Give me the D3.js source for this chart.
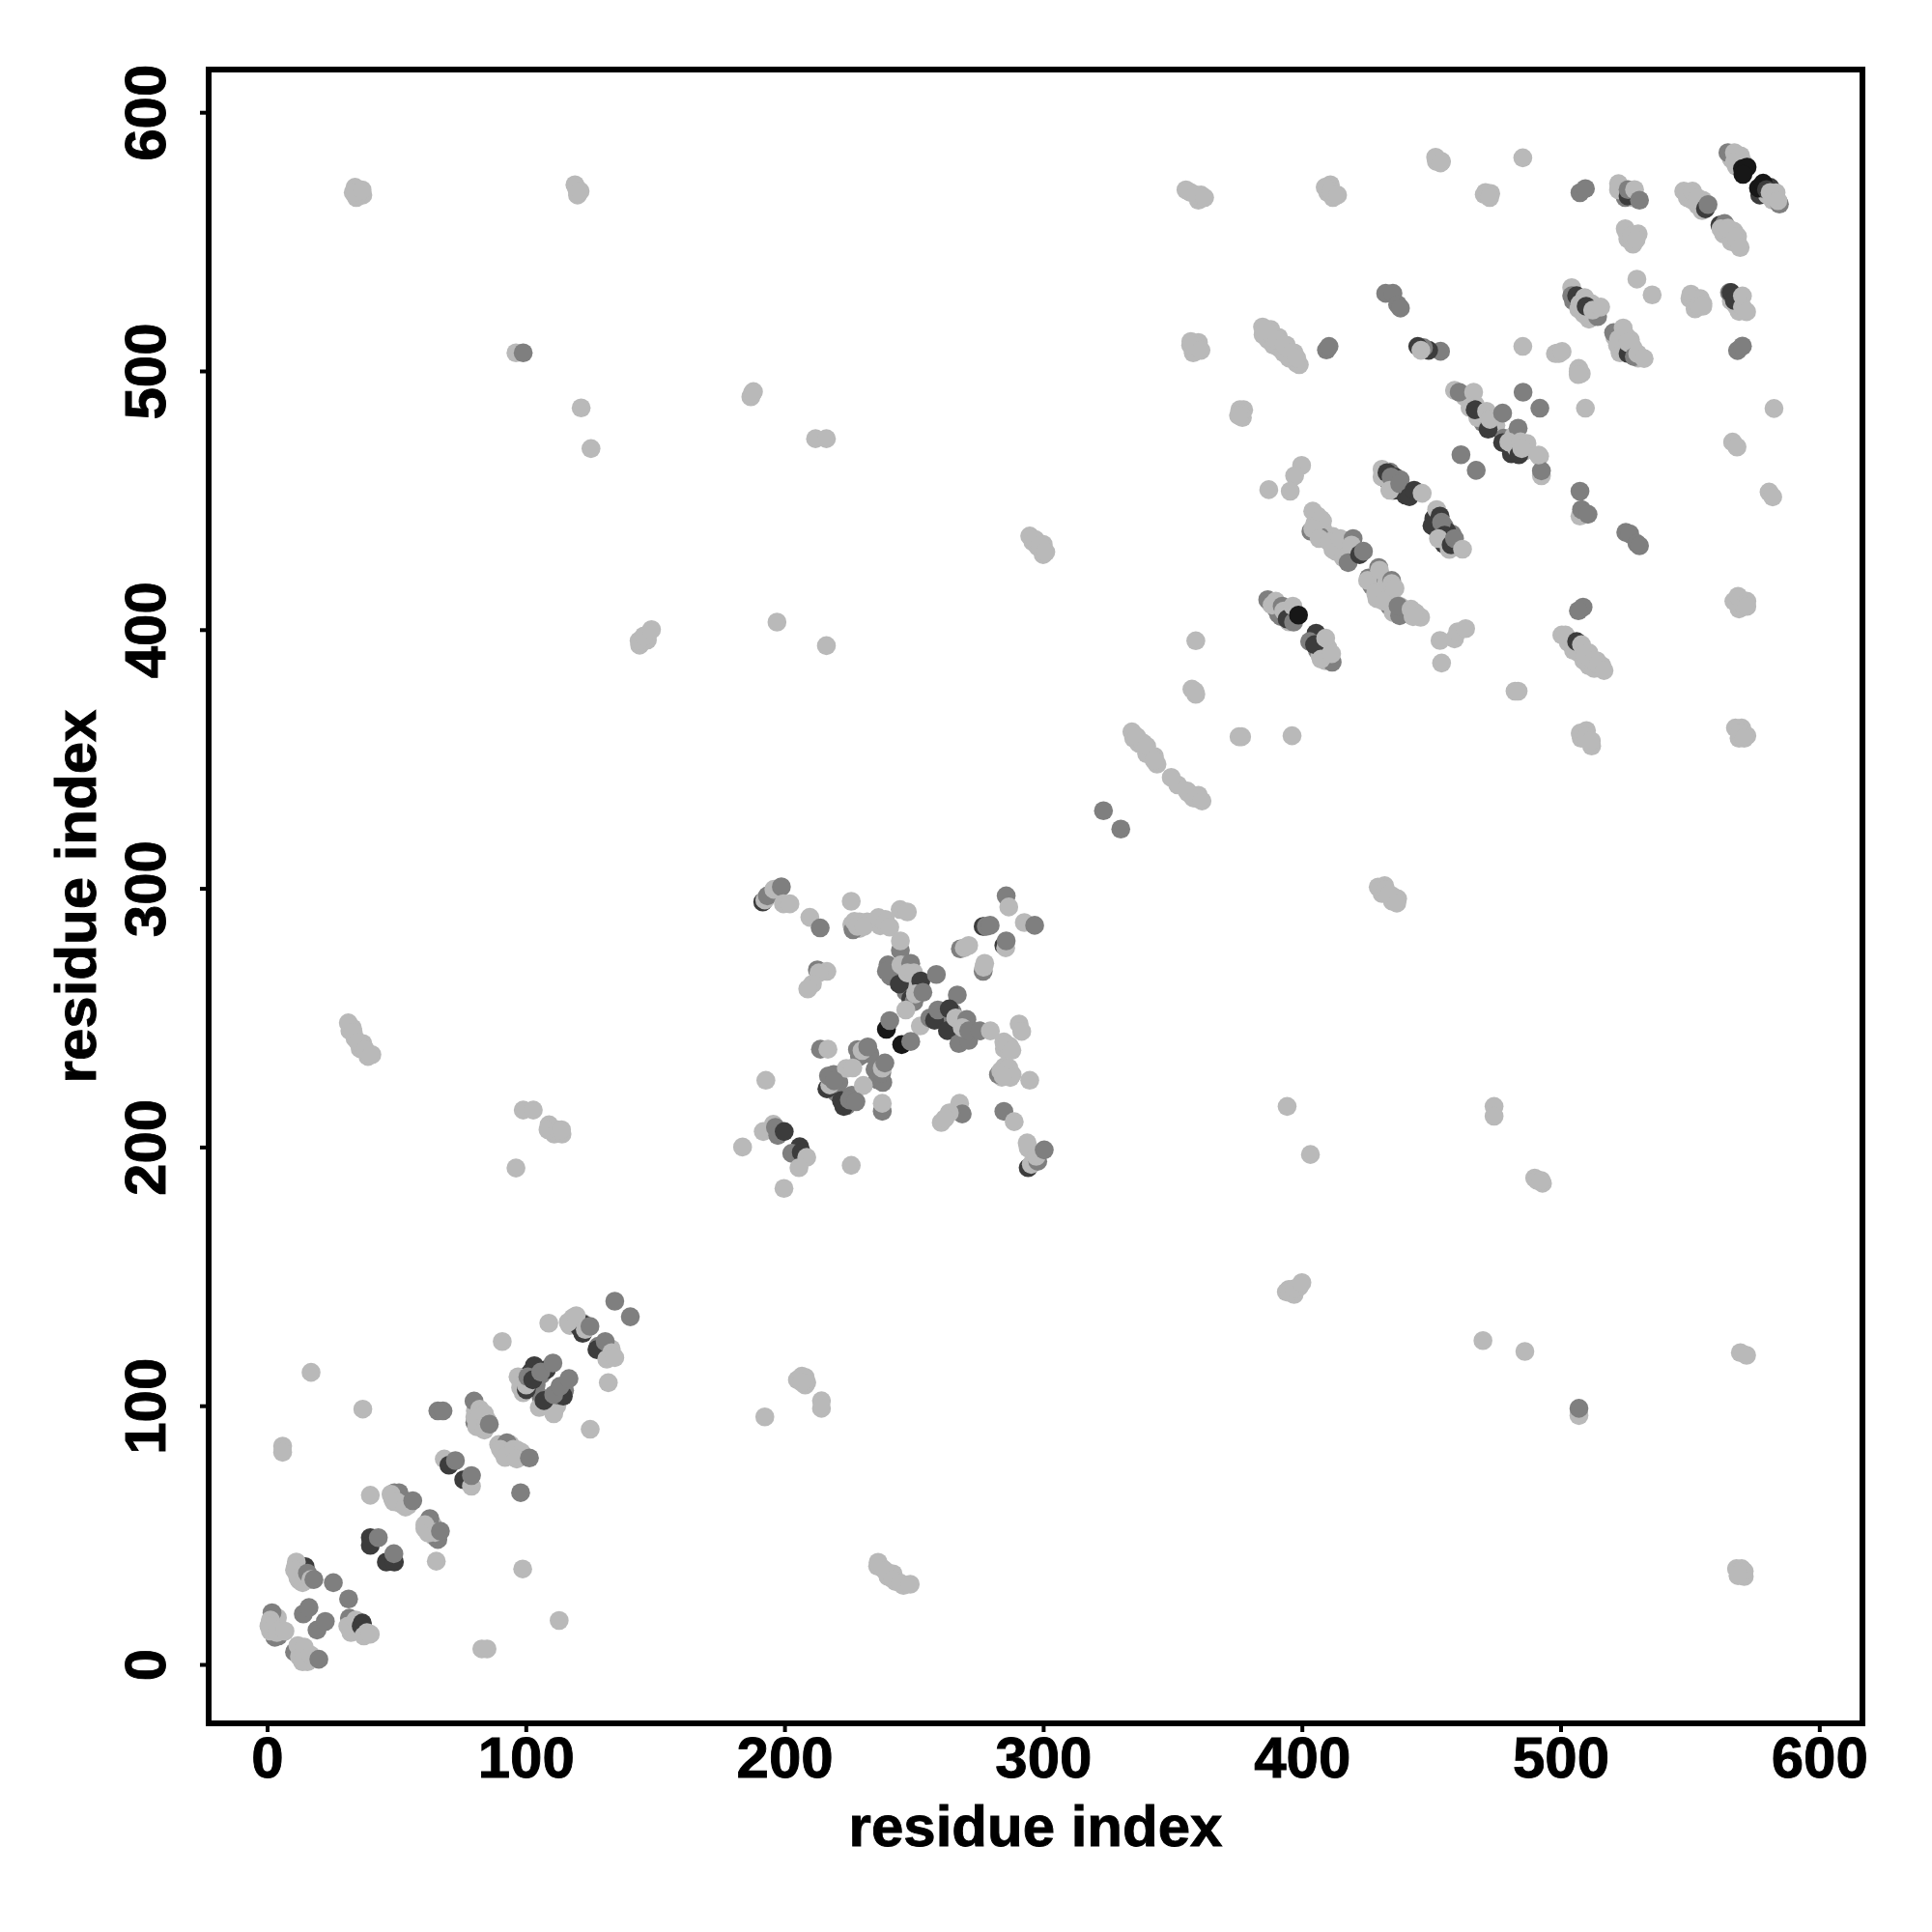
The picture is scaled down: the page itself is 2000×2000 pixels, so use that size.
<!DOCTYPE html>
<html><head><meta charset="utf-8">
<script src="https://cdn.jsdelivr.net/npm/d3@7"></script>
<style>html,body{margin:0;background:#fff}svg{display:block}</style></head>
<body><div id="c"></div>
<script>
// contacts: [residue i, residue j, shade bin (0 light, 1 mid, 2 dark, 3 black)]
const tickValues=[0,100,200,300,400,500,600];
const axisLabel="residue index";
const shades=["#b9b9b9","#7f7f7f","#3c3c3c","#171717"];
const stripeFill=[
[35,568,0],[34,571,0],[37,568,0],[34.5,567,0],[120,569,0],[119,572,0],[120,568,0],[357,569,0],[360,566,0],[361,568,0],[410,569,0],[412,567,0],[411,572,0],
[358,507,0],[357,510,0],[360,511,0],[356,337,0],[358,335,0],[360,336,0],[352,340,0],[335,358,0],[337,356,0],[340,352,0],[344,348,0],[343,351,0],
[431,298,0],[432,301,0],[435,295,0],[435,297,0],[437,296,0],[296,434,0],[298,432,0],[300,429,0],[300,433,0],[395,145,0],[397,143,0],[399,146,0],[394,144,0],
[236,38,0],[238,37,0],[240,34,0],[242,35,0],[243,32,0],[246,30.5,0],[33,246,0],[34,242,0],[36,238,0],[37,240,0],[39,235,0],[32,245,0],
[110,207,0],[111,205,0],[114,205,0],[568,37,0],[571,34,0],[570,37,0],[508,358,0],[510,361,0],[512,355,0],[569,408,0],[572,411,0],[569,411,0],[570,410,0],[567,411,0],
[569,358,0],[570,362,0],[572,359,0],[144,394,0],[147,398,0],[147,396,0],[208,111,0],[208,108,0],[205,110,0],[359,375,0],[357.5,377,0],[377,482,0],[376,485,0],[377.5,485,0],
[490,188,0],[493,186,0],[187,490,0],[188,492,0],[525,555,0],[526,551,0],[528,549,0],[530,553,0],[550,528,0],[552,524,0],[555,526,0],[554,528,0],[454,581,0],[452,581,0],[471,569,0],[473,568.6,0],[499,507,0],[507,501,0],[508,499,0],
[1,16,0],[1.5,14,0],[3,16,0],[3,13.5,0],[4,14.5,0],[5,13.5,0],[3,10.5,1],[4,18,0],
[11,38,0],[12,37,0],[13,35,0],[14,33,0],[12.5,32.5,0],[13,36,0],[15,33,0],
[33,16,0],[33.5,14,0],[35,13,0],[35.5,15,0],[37,13.5,0],[33,13,0],[37,15,0],
[12,5,0],[13,3,0],[15,4,0],[14.5,2.5,0],[16,2,0],[12.5,6,0],[13.5,5,0],
[48.5,64,0],[50,64.5,0],[52,62,0],[53,63.5,0],[54.5,61.5,0],[49,62.9,0],[61,52.5,0],[63,53,0],[64.5,49.5,0],[64,54,0],[65.5,49,1],[62,55,0],
[80.3,93.5,1],[81,97,0],[83,94,0],[82.5,92,0],[84.5,92,0],[85,94.5,0],[80.5,98,0],
[89.5,85,0],[91,82,0],[92.5,83.5,0],[93.5,81,0],[95.5,81,0],[97,80.5,0],[94,85,0],[96.5,83,0],[99,80.5,0],
[98,107,0],[101,112,1],[102,113,2],[104,111,1],[104,108,1],[106,112,1],[108,114,2],[106,103,1],[108,101,2],[109,102,1],[110,99,0],[112,100,0],[113,104,1],[115,106,1],
[118,133,0],[117,131,0],[120,133,0],[121,130,2],[122,132,0],[128,123,1],[130,122,1],[132,119,0],[133,122,0],[132,120,0],
[229,284.5,0],[226,286,0],[226.5,284,1],[229,287,0],[232,287,0],[237,285.5,0],[239,288,0],[243,267,1],[246,265,2],[249,262,0],[247,260,1],[249,263,0],[241,266,1],[261,250,2],[263,247,1],[265,252,1],[267,248,2],[269,243,1],
[220,221,1],[221,225,1],[219,228,1],[222,218,2],[224,216,1],[226,220,1],[229,235,1],[233,236,1],[235,230,1],[236,226,1],[238,225,1],
[285,238,0],[287,239,0],[284,227,0],[285,231,0],[288,228,0],
[405,441,0],[408,439,0],[409,437,0],[412,436,0],[412,431,0],[415,430,0],[417,432,0],[415,433,0],[408,442,0],[406,444,0],
[427,417,1],[429,419,0],[431,416,0],[432,414,0],[433,412,0],[434,409,1],[436,410,0],[438,409,0],[440,407,0],[431,420,0],[432,419,0],[429,412,0],
[433,458,2],[435,457,1],[437,454,2],[439,454,1],[440,452,2],[434,461,1],[436,459,2],[438,458,1],[431,459,0],[442,453,0],
[451,443,2],[452,439,2],[453,438,1],[455,433,2],[456,434,0],[458,437,1],[459,433,2],[453,441,1],[455,440,1],[456,438,2],[457,431,0],
[388,410,0],[390,408,1],[391,406,1],[393,406,0],[394,408,0],[392,405,1],[395,403,0],
[405,396,1],[406,392,1],[407,390,0],[409,390,0],[410,393,0],[409,388,0],[406,397,0],[411,389,0],
[463,490,0],[467,487,0],[469,483,2],[470,480,1],[468,482,0],[473,478,2],[475,479,0],[478,474,1],[480,471,0],[481,468,2],[483,470,0],[486,469,0],[487,472,0],[482,475,0],
[505,527,1],[507,524,0],[509,522,0],[511,520,0],[512,526,0],[514,522,0],[510,526,0],[521,513,0],[522,510,0],[524,509,0],[525,514,0],[527,508,1],[528,509,0],[530,505,0],[527,512,0],[523,507,0],
[549,567,0],[551,566,0],[553,564,0],[555,566,0],[563,553,0],[565,553,0],[566,550,0],[567,554,0],[566,582,0],[568,579,0],[571,580,0],[577,568,2],[580,568,0],[582,566,0],[583,567,0],[581,571,2],
[524,569,0],[525,567,1],[527,568,0],[528,567,0],[566,527,0],[568,525,0],[569,523,0],[569,528,0],
[385,514,0],[387,512,0],[389,510,0],[391,509,0],[393,507,0],[395,505,0],[388,516,0],[391,513,0],[394,510,0],[397,507,0],[398,503,0],
[503,395,0],[505,392,0],[507,391,0],[509,388,0],[511,386,0],[513,385,0],[515,386,0],[511,391,0],[514,388,0],[516,386,0]
];
const lowDiagonal=[
[1.9,20,1],[4.4,11,1],[1.3,17.2,0],[.7,14.8,0],[1.3,12.9,0],[3.8,12.3,0],[6.9,12.9,0],
[14,19.5,1],[16.2,22,1],[19.3,13.3,1],[22.5,16.6,1],[25.6,31.6,1],[31.5,25.3,1],
[14.7,37.8,2],[11.3,39.6,0],[10.6,36.5,0],[11.9,33.4,0],[13.7,31.6,0],[15.6,35.3,1],[16.9,32.8,0],[18.1,32.8,1],
[31.8,17.9,1],[31.2,14.8,0],[32.4,12.3,0],[34.3,17.2,0],[36.8,16,2],[36.4,14.8,2],[38.6,12.3,0],[37.4,11,0],[39.9,11.7,0],
[10.6,4.8,1],[11.9,7.3,0],[12.5,3,0],[14.4,6.7,0],[15.6,1,0],[13.7,1,0],[16.9,3.6,0],[20,2,1],
[39.9,49,2],[39.9,46,2],[43,49,1],[46.1,39.6,2],[49.2,39.6,2],[49,42.8,1],
[49.2,66.4,1],[51,66.4,1],[47.9,65.8,0],[50.4,62.7,0],[53.5,60.8,0],[56.3,63.3,1],[39.9,65.4,0],
[62.9,56.4,1],[66,48.3,1],[61,54,0],[62.3,50.8,0],[64.9,51,0],[67,51.5,1],[65.4,39.9,0],
[66,98,1],[68,98,1],[37,98.7,0],[17,112.9,0],[6,84.4,0],[6,82,0],
[68.5,79.4,0],[70.3,77,2],[72.8,78.8,1],[76,71.4,2],[79,68.9,0],[79,73,1],[98,66.4,1],
[80,101.8,1],[80.3,95.6,0],[82.2,98.7,0],[81,91.9,0],[84,90.6,0],[84,96.9,0],[85.9,92.9,1],
[92.7,85.7,1],[90.2,83.2,0],[92,80,0],[95.2,83.2,0],[98.3,82,0],[96.5,79.4,0],[101.4,79.8,1],
[98.8,36.9,0],[112.9,17,0],[83,6,0],[85,6,0],[90.9,124.8,0],[108.9,131.9,0],
[97,111.2,0],[99,105,0],[103.3,115.5,2],[100.2,106.2,2],[100.2,108,0],[100.8,111.2,1],[102.7,110,2],[105.8,113,1],[110.5,116.5,1],
[105.2,99.3,0],[110.8,96.9,0],[107,102,2],[114.5,103.7,2],[110.8,104.3,1],[113.2,107.5,1],[116.7,110.5,1],
[131.9,108.9,0],[124.9,90.9,0],
[122,128,2],[122.2,131.5,2],[118.2,134,0],[116.4,132.3,0],[119.5,134.8,0],[123,129.5,0],[124.8,130.7,1],
[134.4,140.4,1],[140.4,134.4,1],[127.5,121.7,2],[130.7,124.8,1],[133.2,120.5,0],[131.3,118,0],[134.4,118.6,0]
];
const midRegion=[
[191.6,294.7,2],[192.4,295.5,0],[193.4,297.1,1],[195.9,299.6,0],[198.8,300.6,1],[199.6,294,0],[202.1,294,0],
[209.8,288.8,0],[213.8,284.7,1],[225.8,295,0],[227,287.2,0],[228.2,285.3,0],[230.7,285.3,0],
[236.3,288.7,0],[238.8,286.6,0],[240.7,285,0],[244.7,291.8,0],[247.5,290.9,0],
[244.8,276,1],[244.8,279.7,0],[240,270.4,1],[239.4,268,1],[244.4,263,2],[245,270.4,0],[248.8,271,1],[247.5,267.3,0],[250,267.3,0],[252.7,264.2,2],[258.7,266.7,1],
[248.8,257.3,2],[250,256.1,1],[250.6,259.2,0],[253.5,259.8,1],[246.9,253,0],[252.5,246.8,0],[266.8,258.8,1],
[256.2,249.9,1],[258,249,2],[259.3,253,1],[263,245,2],[263.7,253.4,2],[266.2,249.9,0],[267.4,240,1],[271.2,241.2,1],[270.5,249.3,1],[268.7,246.2,0],[271.2,244.9,1],[275.5,244.9,1],[279.6,244.9,0],
[239.4,245.5,3],[240.7,248.9,1],[245.3,239.6,3],[248.8,240.8,1],[213.9,237.8,1],[216.8,237.8,0],
[228.2,237.7,1],[230,237.3,0],[232.2,238.7,1],[237.6,228.7,1],[237.8,230.5,0],[238.8,232.5,1],
[223.9,230.4,0],[226.4,230.6,0],[216.4,222.5,2],[217.5,224,0],[217,227.5,1],[219.2,225.6,1],
[230.5,223.8,0],[222.9,215.7,2],[225.1,218.2,1],[227.6,217.5,1],[237.8,213.8,1],[237.8,216.9,0],[192.8,225.8,0],
[285.7,297.1,1],[286.7,292.8,0],[292.7,286.8,0],[296.7,285.7,1],[276.8,285.3,2],[278,285.3,1],[279.5,285.7,1],
[268,276.6,1],[269.5,277,0],[271.2,277.9,0],[284.8,277.9,2],[285.5,277,0],[285.7,279.7,1],[276.8,267.9,1],[277,269.5,0],[277.4,271,0],
[212.7,268.5,1],[216.4,267.9,0],[213.3,267.3,0],[210.8,263,0],[209,261.1,0],
[290.7,247.6,0],[291.7,244.7,0],[284.8,240.6,0],[286,239.5,0],[287.9,237.4,0],
[282.7,228,1],[283.6,229.4,0],[286.7,230.6,0],[287.3,226.9,0],[284.5,227.5,0],[294.8,225.8,0],
[267.7,216.9,0],[268.7,212.8,1],[263.7,213.2,0],[260.6,209.5,0],[262,211,0],[284.8,213.8,1],[288.8,209.8,0],
[293.8,201.6,0],[294.2,199.6,0],[294.2,192,2],[295.4,193.3,0],[297.9,194.5,1],[297.3,196.4,0],[300.4,198.9,1],
[195.7,208.8,0],[191.8,206,0],[196.5,207.6,1],[197.4,204.5,1],[199.9,206,2],
[205.9,200.1,2],[202.8,197.6,1],[206.5,198,2],[208.6,196,0],[205.6,192,0],[183.8,200,0],[199.8,184,0],[225.8,192.9,0]
];
const upperBlockA=[
[376.3,483.5,0],[375.5,482.8,0],[399.9,463.5,0],[397.2,459.5,0],[395.5,453.5,0],[387.2,454.1,0],
[403.5,438,1],[407,436,1],[404.2,445.8,0],[407.4,442.7,0],[404.2,439,0],[406.7,435.2,0],[410.5,434,0],[413,430.3,0],[414.8,435.2,0],[416,427.8,0],[419.8,435.2,1],[419.2,432.7,0],[417.9,425.9,1],[422.3,429,2],[423.8,430.3,1],
[429.7,424,1],[425.8,420,1],[425.4,419,0],[430,423,0],[428.5,414.1,0],[431.6,411,0],[434.7,419,1],[434.7,417.8,0],[436,416,0],[435.3,406.6,0],[437.8,405.4,1],[437.2,409.1,1],[442.2,407.9,0],[445.9,404.8,0],[444,406.5,0],[443,405,0],
[431,462,0],[432.9,460.7,2],[434.5,459,1],[435.3,453.9,2],[434,453.9,0],[437.8,456.4,1],[441.6,451.4,2],[443.4,453.9,2],[446.5,452.7,0],
[452.1,446.4,0],[453.4,443.9,2],[450.3,440.2,2],[454,441.5,1],[455.2,436.5,2],[452.8,435.2,0],[457.7,432.8,2],[459,435.2,1],[462.1,431.1,0],
[386.8,411.6,1],[389.9,411,0],[388.5,409.5,0],[392.4,409.1,1],[393,407.2,0],[394.3,404.1,2],[396.8,402.9,1],[396.5,409.1,0],[398.7,405.6,3],
[405.5,398.6,2],[403,395.4,1],[404.9,394.2,2],[409.2,396.7,0],[411.7,387.4,1],[407.4,388.6,0],[411.5,390.7,0],
[453.4,395.8,0],[459,396.4,0],[460.2,399.2,0],[463.3,400.4,0],[454,387.1,0],[483.6,376.2,0],[482.4,376.2,0],
[509.6,485.6,0],[507.5,453.5,1],[507.5,443.9,0],[508.1,446.4,1],[510.6,444.6,1],
[508.7,408.7,1],[506.9,407.3,1],[500.5,397.9,0],[501.9,397.9,0],[506.2,395.4,2],[508.1,394.2,0],[509.4,390.5,0],[512.5,388,0],[514.6,386.5,0],[516.8,384.2,0],
[525.2,437.6,1],[526.7,437.1,1],[529.5,433.3,1],[530.5,432.4,1]
];
const upperBlockB=[
[459,492.5,0],[460.8,491.8,1],[466.4,491.8,0],[465,485.8,0],[467,485,2],[471.4,484.4,0],[472,477.5,2],[472.7,481.3,0],[477.6,483.7,1],[485.5,491.8,1],[492,485.6,1],
[461.5,467.6,1],[467.4,461.6,1],[483.6,477.9,1],[477.6,472.3,2],[480,472.5,0],[483.9,467.6,2],[484.5,472.6,0],[485,470,0],[491.9,467,0],[492.6,459.5,0],[492.6,461.4,1],[491.5,467.5,0],
[451.7,582.6,0],[453.6,580.4,0],[485.4,582.4,0],[470.5,568.2,0],[472.6,567,0],[507.5,568.9,1],[509.6,570.5,1],
[522.4,572.4,0],[522.4,570,0],[526.1,567.6,2],[526.1,570.1,1],[528.6,570.1,0],[530.5,566,1],
[525.5,553.9,0],[527.4,552.3,0],[529.2,550.8,0],
[547.6,569.5,0],[551,569.5,0],[552.9,567,0],[554.7,562,0],[556,562.7,2],[557,564.3,1],
[561.6,556.4,2],[563.4,557,1],[562,555,0],[564.7,555.2,0],[568.4,552,0],[568.2,550,0],[569.4,547.7,0],
[564.7,584.4,1],[567.2,584.4,0],[569.6,583.2,0],[567.2,580.7,0],[570.3,578.2,3],[572.1,578.8,3],[570.5,576,3],
[576.5,570.7,3],[578.3,572.6,3],[579.6,570.1,2],[581,569,0],[584.6,564.5,1],[583.3,568.9,0],[584,565.8,0],
[504.3,532.2,0],[504.3,529.1,1],[506.2,529.1,2],[509.3,528.4,0],[507.5,526,0],[509.9,525,2],[514.3,521,1],[512.4,523.5,0],[515.5,524.7,0],
[520.5,514.8,1],[524.2,516.6,0],[522.4,512.3,0],[526.1,506.7,2],[526.1,511,0],[528.5,505.5,1],[529.8,506.7,0],[532.3,504.8,0],
[529.5,535.5,0],[535.4,529.4,0],[550.4,529.7,0],[552,527.5,0],[553.5,525.3,0],[555,525,0],
[565.3,530.3,1],[565.9,530.3,2],[567.2,527.2,2],[570.3,529,0],[570.3,524.7,0],[571.9,522.9,0],
[568.4,507.9,1],[570.3,509.6,1],[485.4,509.5,0],[498,506.7,0],[499.4,506.7,0],[500.6,507.5,0],[506.8,499.8,0],[506.8,498.6,0],
[582.5,485.5,0],[566.5,472.5,0],[568.2,470.6,0],[580.6,453.2,0],[582,451.3,0],[453.6,507.6,1],[449,508,2],[447,509,1],[444.8,509.5,2],[446,508,0]
];
const farContacts=[
[35.2,569.5,0],[33.3,569,0],[36.7,570,0],[119.5,571,0],[121,569.5,0],[355.2,570,0],[359,568,0],[362.4,567,0],[409,571,0],[411.4,569.5,0],[413.8,568,0],
[96.2,507,0],[99,507,1],[121.4,485.7,0],[125.2,470,0],[187.6,491.4,0],[212,473.8,0],[216.2,473.8,0],
[357.1,511.4,0],[359,509.5,0],[361,508,0],
[384.8,517,0],[387.6,514.8,0],[390.5,511.9,0],[393.3,510,0],[396.2,507.1,0],[399,502.4,0],[398,505,0],[409.5,508.1,1],[410.5,509.5,1],
[432.4,530,1],[435.2,530,1],[437,525.7,1],[438.1,524.3,1],
[359,395.7,0],[358.6,376.2,0],[376.7,358.6,0],[375.7,358.6,0],[396.2,359,0],
[334.3,360.5,0],[336.2,358.6,0],[338.6,356.2,0],[340,355,0],[342.9,349.5,0],[349.5,342.9,0],[355.7,337.6,0],[359,334.8,0],[361.4,333.8,0],
[323.3,330,1],[330,322.9,1],[507.6,360,0],[510,358.6,0],[511.9,357,0],[567.6,362,0],[569.5,360,0],[571,358,0],[568.6,412.9,0],[571,409.5,0],[572,409,0],
[429.5,300.5,0],[432.4,299.5,0],[433.8,297.6,0],[436.7,294.3,0],[294.8,436.2,0],[297,434.8,0],[299,432.9,0],[301,430,0],
[143.8,395.7,0],[145.7,397.6,0],[148.6,400,0],[197.1,402.9,0],[216.2,393.8,0],
[394.3,215.7,0],[403.3,197.1,0],[474.3,215.7,0],[474.3,211.9,0],[491,187.1,0],[492.5,187.1,0],
[395.2,143.8,0],[397.1,145.2,0],[400,147.6,0],[470,125.2,0],[486.2,121,0],[507.1,96.2,0],[507.1,99,1],[569.5,120.5,0],[571.9,119.5,0],
[569.5,35.7,0],[571,36,0],[568.6,34.3,0],[236.2,39.5,0],[239,36.2,0],[241.9,32.9,0],[244.8,31.4,0],[248.6,31,0],
[206.7,111.4,0],[208.6,109,0],[206.7,109,0],[214.3,101.9,0],[214.3,99,0],[192.4,95.7,0],
[31.4,248,0],[33.3,244.3,0],[35.2,240.5,0],[38,237.6,0],[40.5,235.7,0],
[99,214.3,0],[102.9,214.3,0],[96.2,191.9,0],[109,208.6,0],[108.6,206.7,0],[112.4,206.7,0],[113.8,206.7,0]
];
const contacts=[...stripeFill,...farContacts,...lowDiagonal,...midRegion,...upperBlockA,...upperBlockB];

const W=2000,H=2000,L=216,R=1928,T=72,B=1784;
const svg=d3.select("#c").append("svg").attr("width",W).attr("height",H).style("font-family","'Liberation Sans',Arial,sans-serif").style("font-weight","bold");
const k=2.678;
const x=d3.scaleLinear().domain([(L-276.5)/k,(R-276.5)/k]).range([L,R]);
const y=d3.scaleLinear().domain([(1723-B)/k,(1723-T)/k]).range([B,T]);
const color=d3.scaleOrdinal().domain([0,1,2,3]).range(shades);

svg.append("g").selectAll("circle").data(contacts).join("circle")
 .attr("cx",d=>x(d[0])).attr("cy",d=>y(d[1])).attr("r",9.8).attr("fill",d=>color(d[2]));

svg.append("rect").attr("x",L).attr("y",T).attr("width",R-L).attr("height",B-T).attr("fill","none").attr("stroke","#000").attr("stroke-width",6);

const txt=s=>s.attr("font-size",60).attr("font-family","'Liberation Sans'").attr("font-weight","bold").attr("fill","#000").attr("stroke","#000").attr("stroke-width",0.9);
const ax=svg.append("g").attr("transform",`translate(0,${B})`).call(d3.axisBottom(x).tickValues(tickValues).tickSize(9).tickSizeOuter(0).tickFormat(d3.format("d")));
ax.select(".domain").remove();
ax.selectAll("line").attr("stroke","#000").attr("stroke-width",4);
ax.selectAll("text").attr("y",56).attr("dy",0).call(txt);

const ay=svg.append("g").attr("transform",`translate(${L},0)`).call(d3.axisLeft(y).tickValues(tickValues).tickSize(9).tickSizeOuter(0).tickFormat(d3.format("d")));
ay.select(".domain").remove();
ay.selectAll("line").attr("stroke","#000").attr("stroke-width",4);
ay.selectAll("text").attr("x",0).attr("y",0).attr("dy",0).attr("text-anchor","middle").call(txt)
 .attr("transform","translate(-45,0) rotate(-90)");

svg.append("text").attr("x",1072).attr("y",1911).attr("text-anchor","middle").call(txt).text(axisLabel);
svg.append("text").attr("transform","translate(99,928) rotate(-90)").attr("text-anchor","middle").call(txt).text(axisLabel);
</script></body></html>
